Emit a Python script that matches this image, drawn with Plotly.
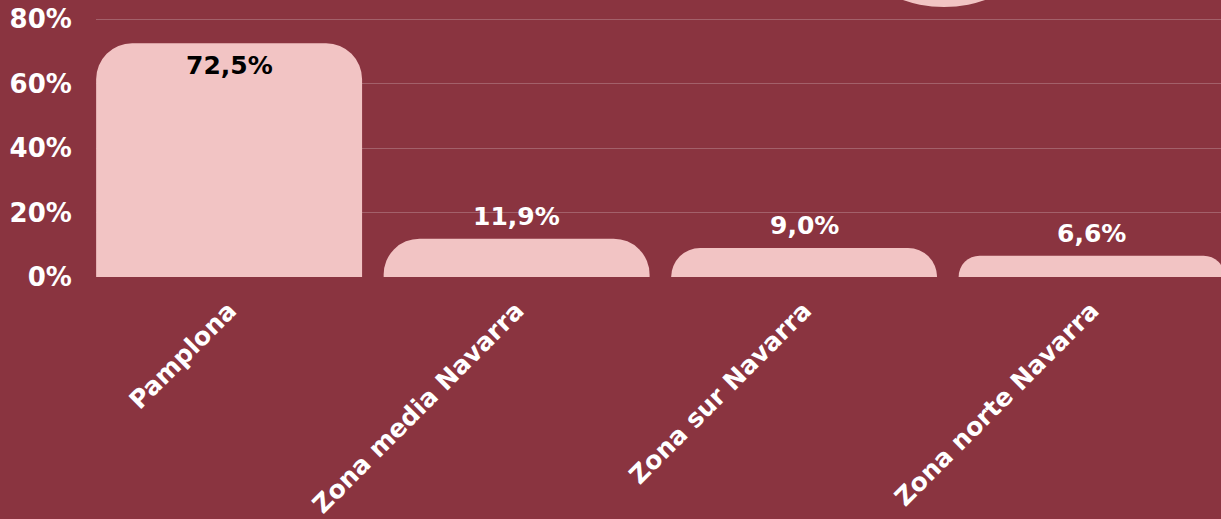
import plotly.graph_objects as go

categories = ["Pamplona", "Zona media Navarra", "Zona sur Navarra", "Zona norte Navarra"]
values = [72.5, 11.9, 9.0, 6.6]
y_ticks = [0, 20, 40, 60, 80]
y_tick_labels = ["0%", "20%", "40%", "60%", "80%"]

BG = "#8A3440"
PINK = "#F2C4C4"
FONT = "DejaVu Sans"

def fmt(v):
    return f"{v:.1f}".replace(".", ",") + "%"

fig = go.Figure()
fig.add_trace(go.Bar(
    x=categories, y=values,
    marker=dict(color=PINK, line=dict(width=0)),
    hoverinfo="skip",
))

annotations = []
for i, (c, v) in enumerate(zip(categories, values)):
    if i == 0:
        annotations.append(dict(x=c, y=v, xref="x", yref="y", text=fmt(v), showarrow=False,
                                yanchor="top", yshift=-6,
                                font=dict(family=FONT, size=25, color="black", weight="bold")))
    else:
        annotations.append(dict(x=c, y=v, xref="x", yref="y", text=fmt(v), showarrow=False,
                                yanchor="bottom", yshift=6,
                                font=dict(family=FONT, size=25, color="white", weight="bold")))

fig.update_layout(
    width=1221, height=519,
    margin=dict(l=96, r=0, t=0, b=242, pad=0),
    paper_bgcolor=BG, plot_bgcolor=BG,
    bargap=0.075,
    barcornerradius=36,
    showlegend=False,
    annotations=annotations,
    font=dict(family=FONT, color="white", weight="bold"),
    shapes=[dict(type="circle", xref="paper", yref="paper",
                 x0=0.6436, x1=0.864, y0=0.9747, y1=1.870,
                 fillcolor=PINK, line=dict(width=0), layer="above")],
)
fig.update_xaxes(
    range=[-0.463, 3.45], showgrid=False, zeroline=False, showline=False,
    tickangle=-45, ticks="outside", ticklen=8, tickcolor="rgba(0,0,0,0)",
    tickfont=dict(family=FONT, size=25, color="white", weight="bold"),
)
fig.update_yaxes(
    range=[0, 85.9], tickvals=y_ticks, ticktext=y_tick_labels,
    showgrid=True, gridcolor="rgba(255,255,255,0.22)", gridwidth=1,
    zeroline=False, showline=False,
    ticks="outside", ticklen=18, tickcolor="rgba(0,0,0,0)",
    tickfont=dict(family=FONT, size=26, color="white", weight="bold"),
)

fig.write_html("out.html", config={"displayModeBar": False, "staticPlot": True},
               post_script="document.body.style.margin='0';document.body.style.background='" + BG + "';")
